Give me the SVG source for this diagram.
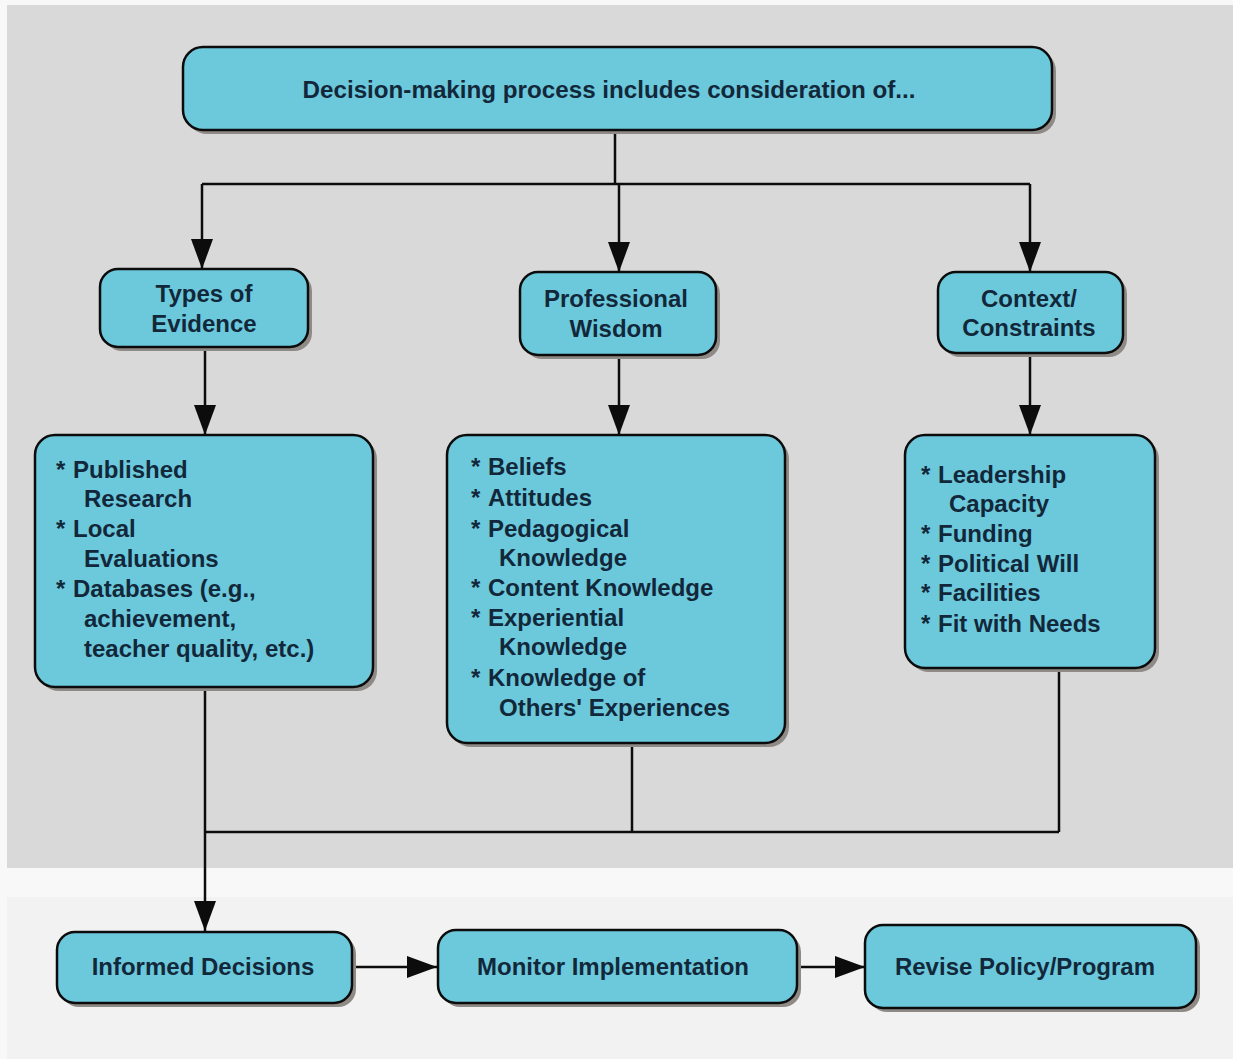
<svg xmlns="http://www.w3.org/2000/svg" width="1233" height="1059" viewBox="0 0 1233 1059">
<style>
.sh{fill:#8f8a86;}
.box{fill:#6cc9dc;stroke:#0c0c0c;stroke-width:2.5;}
text{font-family:"Liberation Sans",Arial,sans-serif;font-weight:bold;font-size:24px;fill:#12283a;}
.c{text-anchor:middle;}
text.big{font-size:24.2px;}
.ln{fill:none;stroke:#0c0c0c;stroke-width:2.5;}
</style>
<defs>
<marker id="ah" markerUnits="userSpaceOnUse" markerWidth="30" markerHeight="22" refX="30" refY="11" orient="auto">
<path d="M0,0 L30,11 L0,22 Z" fill="#0c0c0c"/>
</marker>
</defs>
<rect x="0" y="0" width="1233" height="1059" fill="#f8f8f8"/>
<rect x="7" y="5" width="1226" height="863" fill="#d9d9d9"/>
<rect x="7" y="897" width="1226" height="162" fill="#f2f2f2"/>

<g id="connectors">
<path class="ln" d="M615,130 V184 M202,184 H1030"/>
<path class="ln" marker-end="url(#ah)" d="M202,184 V269"/>
<path class="ln" marker-end="url(#ah)" d="M619,184 V272"/>
<path class="ln" marker-end="url(#ah)" d="M1030,184 V272"/>
<path class="ln" marker-end="url(#ah)" d="M205,347 V435"/>
<path class="ln" marker-end="url(#ah)" d="M619,355 V435"/>
<path class="ln" marker-end="url(#ah)" d="M1030,353 V435"/>
<path class="ln" d="M632,743 V832 M1059,662 V832 M205,832 H1059"/>
<path class="ln" marker-end="url(#ah)" d="M205,687 V931"/>
<path class="ln" marker-end="url(#ah)" d="M352,967 H437"/>
<path class="ln" marker-end="url(#ah)" d="M797,967 H865"/>
</g>

<g id="top">
<rect class="sh" x="187" y="51" width="869" height="83" rx="20"/>
<rect class="box" x="183" y="47" width="869" height="83" rx="20"/>
<text class="c big" x="609" y="98">Decision-making process includes consideration of...</text>
</g>

<g id="types">
<rect class="sh" x="104" y="273" width="208" height="78" rx="18"/>
<rect class="box" x="100" y="269" width="208" height="78" rx="18"/>
<text class="c" x="204" y="302">Types of</text>
<text class="c" x="204" y="332">Evidence</text>
</g>

<g id="wisdom">
<rect class="sh" x="524" y="276" width="196" height="83" rx="18"/>
<rect class="box" x="520" y="272" width="196" height="83" rx="18"/>
<text class="c" x="616" y="307">Professional</text>
<text class="c" x="616" y="337">Wisdom</text>
</g>

<g id="context">
<rect class="sh" x="942" y="276" width="185" height="81" rx="18"/>
<rect class="box" x="938" y="272" width="185" height="81" rx="18"/>
<text class="c" x="1029" y="307">Context/</text>
<text class="c" x="1029" y="336">Constraints</text>
</g>

<g id="evidence-list">
<rect class="sh" x="39" y="439" width="338" height="252" rx="20"/>
<rect class="box" x="35" y="435" width="338" height="252" rx="20"/>
<text x="56" y="478">*</text><text x="73" y="478">Published</text>
<text x="84" y="507">Research</text>
<text x="56" y="537">*</text><text x="73" y="537">Local</text>
<text x="84" y="567">Evaluations</text>
<text x="56" y="597">*</text><text x="73" y="597">Databases (e.g.,</text>
<text x="84" y="627">achievement,</text>
<text x="84" y="657">teacher quality, etc.)</text>
</g>

<g id="wisdom-list">
<rect class="sh" x="451" y="439" width="338" height="308" rx="20"/>
<rect class="box" x="447" y="435" width="338" height="308" rx="20"/>
<text x="471" y="475">*</text><text x="488" y="475">Beliefs</text>
<text x="471" y="506">*</text><text x="488" y="506">Attitudes</text>
<text x="471" y="537">*</text><text x="488" y="537">Pedagogical</text>
<text x="499" y="566">Knowledge</text>
<text x="471" y="596">*</text><text x="488" y="596">Content Knowledge</text>
<text x="471" y="626">*</text><text x="488" y="626">Experiential</text>
<text x="499" y="655">Knowledge</text>
<text x="471" y="686">*</text><text x="488" y="686">Knowledge of</text>
<text x="499" y="716">Others' Experiences</text>
</g>

<g id="context-list">
<rect class="sh" x="909" y="439" width="250" height="233" rx="20"/>
<rect class="box" x="905" y="435" width="250" height="233" rx="20"/>
<text x="921" y="483">*</text><text x="938" y="483">Leadership</text>
<text x="949" y="512">Capacity</text>
<text x="921" y="542">*</text><text x="938" y="542">Funding</text>
<text x="921" y="572">*</text><text x="938" y="572">Political Will</text>
<text x="921" y="601">*</text><text x="938" y="601">Facilities</text>
<text x="921" y="632">*</text><text x="938" y="632">Fit with Needs</text>
</g>

<g id="informed">
<rect class="sh" x="61" y="936" width="295" height="71" rx="18"/>
<rect class="box" x="57" y="932" width="295" height="71" rx="18"/>
<text class="c" x="203" y="975">Informed Decisions</text>
</g>

<g id="monitor">
<rect class="sh" x="442" y="934" width="359" height="73" rx="18"/>
<rect class="box" x="438" y="930" width="359" height="73" rx="18"/>
<text class="c" x="613" y="975">Monitor Implementation</text>
</g>

<g id="revise">
<rect class="sh" x="869" y="929" width="331" height="83" rx="18"/>
<rect class="box" x="865" y="925" width="331" height="83" rx="18"/>
<text class="c" x="1025" y="975">Revise Policy/Program</text>
</g>
</svg>
